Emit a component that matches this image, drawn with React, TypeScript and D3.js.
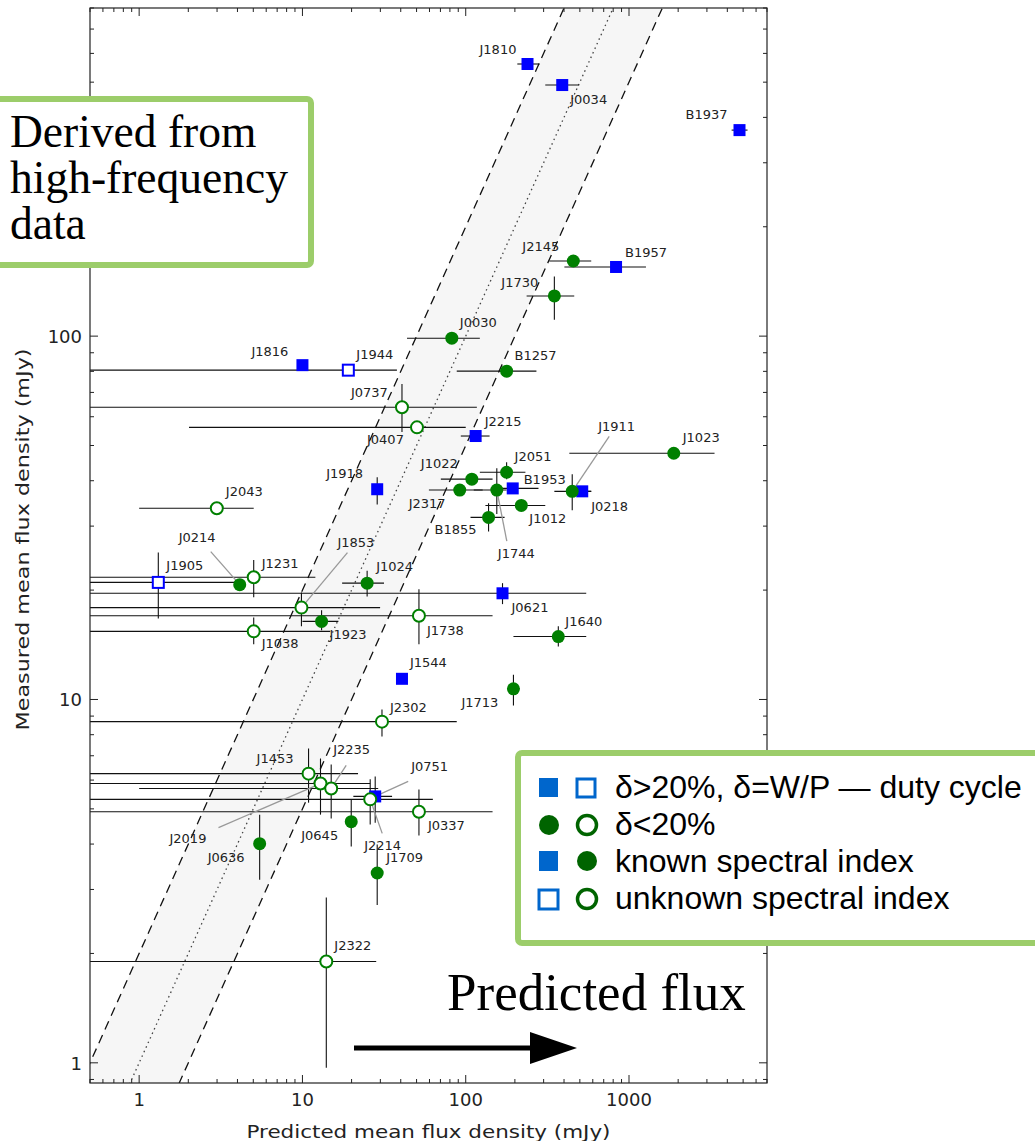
import * as d3 from "d3";

// name, predicted, measured, xLo, xHi, yLo, yHi  (0 = no bar)
type Pt = [string, number, number, number, number, number, number];

const blueFilled: Pt[] = [
  ["J1810", 239, 561, 207, 283, 0, 0],
  ["J0034", 390, 491, 307, 495, 0, 0],
  ["B1937", 4750, 369, 4250, 5320, 0, 0],
  ["B1957", 833, 155, 402, 1270, 0, 0],
  ["J1816", 10, 83.2, 0, 0, 0, 0],
  ["J2215", 115, 53.1, 93.3, 140, 0, 0],
  ["J1918", 28.7, 37.9, 0, 0, 34.4, 40.9],
  ["B1953", 194, 38.1, 146, 279, 0, 0],
  ["J0218", 517, 37.4, 462, 587, 0, 0],
  ["J0621", 168, 19.6, 0.3, 547, 18.3, 20.9],
  ["J1544", 40.7, 11.4, 0, 0, 11.1, 11.7],
  ["J0751", 27.9, 5.41, 20.5, 35.4, 4.58, 6.14],
];

const blueOpen: Pt[] = [
  ["J1944", 19.1, 80.6, 0.3, 37.9, 0, 0],
  ["J1905", 1.31, 21.0, 0.3, 4.0, 16.7, 25.4],
];

const greenFilled: Pt[] = [
  ["J2145", 456, 161, 325, 587, 0, 0],
  ["J1730", 349, 129, 236, 462, 111, 146],
  ["J0030", 82.2, 98.7, 43.7, 122, 0, 0],
  ["B1257", 178, 80.1, 88.1, 271, 0, 0],
  ["J1023", 1880, 47.6, 431, 3340, 0, 0],
  ["J2051", 178, 42.2, 122, 232, 40.4, 45.0],
  ["J1022", 109, 40.4, 70.4, 146, 0, 0],
  ["J2317", 91.9, 37.7, 59.5, 127, 0, 0],
  ["J1744", 155, 37.7, 112, 178, 32.4, 43.3],
  ["J1012", 219, 34.2, 132, 307, 0, 0],
  ["B1855", 138, 31.7, 107, 173, 29.0, 34.7],
  ["J1911", 449, 37.4, 349, 587, 33.2, 41.7],
  ["J0214", 4.13, 20.7, 0, 0, 0, 0],
  ["J1024", 24.9, 20.9, 17.5, 31.6, 19.2, 22.6],
  ["J1923", 13.1, 16.4, 10, 16.6, 15.5, 17.6],
  ["J1640", 369, 14.9, 196, 547, 14.0, 15.9],
  ["J1713", 196, 10.7, 180, 214, 9.62, 11.7],
  ["J0645", 19.9, 4.61, 0, 0, 3.94, 5.31],
  ["J0636", 5.47, 4.01, 0, 0, 3.19, 4.82],
  ["J1709", 28.7, 3.33, 0, 0, 2.72, 3.99],
];

const greenOpen: Pt[] = [
  ["J0737", 40.7, 63.7, 0.3, 117, 54.5, 73.8],
  ["J0407", 50.3, 56.1, 2.02, 100, 0, 0],
  ["J2043", 2.99, 33.6, 1.0, 5.03, 0, 0],
  ["J1231", 5.03, 21.7, 0.3, 12.0, 19.1, 24.2],
  ["J1853", 9.86, 17.9, 0.3, 29.9, 15.9, 19.7],
  ["J1738", 51.7, 17.0, 0.3, 146, 14.2, 20.1],
  ["J1038", 5.03, 15.4, 0.3, 14.8, 14.2, 16.8],
  ["J2302", 30.7, 8.69, 0.3, 88.1, 7.91, 9.38],
  ["J1453", 10.9, 6.25, 0.3, 21.9, 5.2, 7.33],
  ["J2019", 12.9, 5.87, 0.3, 26.0, 4.82, 6.88],
  ["J2235", 15.0, 5.69, 1.0, 29.1, 4.7, 6.62],
  ["J2214", 26.0, 5.31, 0.3, 62.9, 4.53, 6.03],
  ["J0337", 51.7, 4.91, 0.3, 146, 4.22, 5.65],
  ["J2322", 14.0, 1.9, 0.3, 28.3, 0.97, 2.85],
];

// label placement, px from the marker: [dx, dy]
const labelAt: Record<string, [number, number]> = {
  J1810: [-48, -10], J0034: [8, 19], B1937: [-54, -11], B1957: [9, -10],
  J2145: [-51, -10], J1730: [-53, -9], J0030: [8, -11], B1257: [8, -11],
  J1816: [-51, -9], J1944: [8, -11], J0737: [-51, -10], J0407: [-50, 17],
  J2215: [9, -10], J1911: [26, -60], J1023: [9, -11], J2051: [8, -11],
  J1022: [-51, -11], B1953: [11, -4], J1918: [-51, -11], J2317: [-51, 18],
  J1012: [8, 18], B1855: [-54, 17], J0218: [9, 20], J1744: [1, 68],
  J2043: [9, -12], J0214: [-61, -43], J1853: [36, -61], J1231: [8, -9],
  J1905: [8, -12], J1024: [9, -12], J0621: [9, 19], J1640: [7, -11],
  J1923: [8, 18], J1738: [8, 19], J1038: [8, 17], J1544: [8, -12],
  J1713: [-52, 18], J2302: [8, -10], J1453: [-52, -11], J2235: [2, -34],
  J0751: [36, -25], J2019: [-151, 59], J0645: [-50, 18], J0337: [9, 18],
  J0636: [-52, 18], J2214: [-6, 51], J1709: [9, -11], J2322: [8, -12],
};

// grey leader lines, start offset in px from the marker
const leaders: Record<string, [number, number]> = {
  J1911: [37, -55], J0214: [-29, -33], J1853: [46, -55], J1744: [10, 51],
  J2019: [-102, 44], J2235: [15, -23], J0751: [33, -15], J2214: [12, 34],
};

const ratios = [2, 1, 0.5];
const xTickLabels = [1, 10, 100, 1000];
const yTickLabels = [1, 10, 100];

const legendRows = [
  "δ>20%, δ=W/P — duty cycle",
  "δ<20%",
  "known spectral index",
  "unknown spectral index",
];
const boxLines = ["Derived from", "high-frequency", "data"];

const width = 1035;
const height = 1141;
const marginLeft = 90;
const marginRight = 268;
const marginTop = 8;
const marginBottom = 58;

const blue = "#0000ff";
const green = "#008000";
const boxGreen = "#9ccd6a";

const App = () => {
  const x = d3
    .scaleLog()
    .domain([0.5, 7000])
    .range([marginLeft, width - marginRight]);
  const y = d3
    .scaleLog()
    .domain([0.88, 800])
    .range([height - marginBottom, marginTop]);

  const [x0, x1] = x.range();
  const [y0, y1] = y.range();

  const lineBuilder = d3
    .line<[number, number]>()
    .x((d) => x(d[0]))
    .y((d) => y(d[1]));

  const band: [number, number][] = [
    [0.1, 0.2],
    [20000, 40000],
    [20000, 10000],
    [0.1, 0.05],
  ];

  const all = [
    ...blueFilled.map((d) => ({ d, kind: "sq" })),
    ...blueOpen.map((d) => ({ d, kind: "osq" })),
    ...greenFilled.map((d) => ({ d, kind: "c" })),
    ...greenOpen.map((d) => ({ d, kind: "oc" })),
  ];

  const isMajor = (v: number) => Math.abs(Math.log10(v) - Math.round(Math.log10(v))) < 1e-6;
  const xTicks = x.ticks();
  const yTicks = y.ticks();

  const font = "DejaVu Sans, sans-serif";

  return (
    <svg
      width={width}
      height={height}
      viewBox={`0 0 ${width} ${height}`}
      style={{ position: "absolute", left: 0, top: 0, background: "#fff" }}
    >
      <defs>
        <clipPath id="plot">
          <rect x={x0} y={y1} width={x1 - x0} height={y0 - y1} />
        </clipPath>
      </defs>

      <g clipPath="url(#plot)">
        <path d={lineBuilder(band) + "Z"} fill="#f6f6f6" />
        {ratios.map((k) => (
          <path
            key={k}
            d={lineBuilder([
              [0.1, 0.1 * k],
              [20000, 20000 * k],
            ]) as string}
            fill="none"
            stroke={k === 1 ? "#444" : "#111"}
            strokeWidth={k === 1 ? 1.3 : 1.3}
            strokeDasharray={k === 1 ? "1.5,3.5" : "9,6"}
          />
        ))}

        {all.map(({ d }) => {
          const [name, px, py, xl, xh, yl, yh] = d;
          return (
            <g key={"e" + name} stroke="#111" strokeWidth={1.1}>
              {xl > 0 && <line x1={x(xl)} x2={x(xh)} y1={y(py)} y2={y(py)} />}
              {yl > 0 && <line x1={x(px)} x2={x(px)} y1={y(yl)} y2={y(yh)} />}
            </g>
          );
        })}

        {Object.entries(leaders).map(([name, [dx, dy]]) => {
          const p = all.find((a) => a.d[0] === name)!.d;
          return (
            <line
              key={"l" + name}
              x1={x(p[1]) + dx}
              y1={y(p[2]) + dy}
              x2={x(p[1])}
              y2={y(p[2])}
              stroke="#999"
              strokeWidth={1.3}
            />
          );
        })}

        {all.map(({ d, kind }) => {
          const cx = x(d[1]);
          const cy = y(d[2]);
          if (kind === "sq")
            return <rect key={"m" + d[0]} x={cx - 6} y={cy - 6} width={12} height={12} fill={blue} />;
          if (kind === "osq")
            return (
              <rect key={"m" + d[0]} x={cx - 5.5} y={cy - 5.5} width={11} height={11} fill="#fff" stroke={blue} strokeWidth={2} />
            );
          if (kind === "c") return <circle key={"m" + d[0]} cx={cx} cy={cy} r={6.5} fill={green} />;
          return <circle key={"m" + d[0]} cx={cx} cy={cy} r={6} fill="#fff" stroke={green} strokeWidth={2} />;
        })}

        {all.map(({ d }) => {
          const [dx, dy] = labelAt[d[0]] || [8, -10];
          return (
            <text
              key={"t" + d[0]}
              x={x(d[1]) + dx}
              y={y(d[2]) + dy}
              fontFamily={font}
              fontSize={13}
              fill="#222"
            >
              {d[0]}
            </text>
          );
        })}
      </g>

      {/* frame and ticks */}
      <rect x={x0} y={y1} width={x1 - x0} height={y0 - y1} fill="none" stroke="#222" strokeWidth={1.2} />
      {xTicks.map((t, i) => {
        const len = isMajor(t) ? 8 : 4;
        return (
          <g key={"xt" + i} stroke="#222" strokeWidth={1}>
            <line x1={x(t)} x2={x(t)} y1={y0} y2={y0 - len} />
            <line x1={x(t)} x2={x(t)} y1={y1} y2={y1 + len} />
          </g>
        );
      })}
      {yTicks.map((t, i) => {
        const len = isMajor(t) ? 8 : 4;
        return (
          <g key={"yt" + i} stroke="#222" strokeWidth={1}>
            <line x1={x0} x2={x0 + len} y1={y(t)} y2={y(t)} />
            <line x1={x1} x2={x1 - len} y1={y(t)} y2={y(t)} />
          </g>
        );
      })}
      {xTickLabels.map((t) => (
        <text key={"xl" + t} x={x(t)} y={y0 + 23} textAnchor="middle" fontFamily={font} fontSize={18} fill="#222">
          {t}
        </text>
      ))}
      {yTickLabels.map((t) => (
        <text key={"yl" + t} x={x0 - 8} y={y(t) + 7} textAnchor="end" fontFamily={font} fontSize={18} fill="#222">
          {t}
        </text>
      ))}
      <text
        x={(x0 + x1) / 2}
        y={height - 3}
        textAnchor="middle"
        fontFamily={font}
        fontSize={18}
        textLength={364}
        lengthAdjust="spacingAndGlyphs"
        fill="#222"
      >
        Predicted mean flux density (mJy)
      </text>
      <text
        transform={`translate(29, ${(y0 + y1) / 2 - 6}) rotate(-90)`}
        textAnchor="middle"
        fontFamily={font}
        fontSize={18}
        textLength={382}
        lengthAdjust="spacingAndGlyphs"
        fill="#222"
      >
        Measured mean flux density (mJy)
      </text>

      {/* annotation box, top left */}
      <rect x={-10} y={99} width={321} height={166} rx={4} fill="#fff" stroke={boxGreen} strokeWidth={6} />
      {boxLines.map((s, i) => (
        <text key={s} x={10} y={147 + i * 46} fontFamily="Liberation Serif, serif" fontSize={45.5} fill="#000">
          {s}
        </text>
      ))}

      {/* legend */}
      <rect x={518} y={753} width={540} height={190} rx={4} fill="#fff" stroke={boxGreen} strokeWidth={6} />
      <rect x={539} y={778} width={19} height={19} fill="#0066cc" />
      <rect x={577} y={779} width={18} height={18} fill="#fff" stroke="#0066cc" strokeWidth={3} />
      <circle cx={549} cy={825} r={10} fill="#006400" />
      <circle cx={587} cy={825} r={9.5} fill="#fff" stroke="#006400" strokeWidth={3.5} />
      <rect x={539} y={851} width={19} height={20} fill="#0066cc" />
      <circle cx={587} cy={861} r={10} fill="#006400" />
      <rect x={539} y={890} width={19} height={19} fill="#fff" stroke="#0066cc" strokeWidth={3} />
      <circle cx={587} cy={899} r={9.5} fill="#fff" stroke="#006400" strokeWidth={3.5} />
      {legendRows.map((s, i) => (
        <text key={s} x={615} y={798 + i * 37} fontFamily="Liberation Sans, Arial, sans-serif" fontSize={32} fill="#000">
          {s}
        </text>
      ))}

      {/* arrow annotation */}
      <text x={447} y={1010} fontFamily="Liberation Serif, serif" fontSize={53} fill="#000">
        Predicted flux
      </text>
      <line x1={354} x2={535} y1={1048} y2={1048} stroke="#000" strokeWidth={5} />
      <path d="M530,1032 L577,1048 L530,1064 Z" fill="#000" />
    </svg>
  );
};

export default App;
